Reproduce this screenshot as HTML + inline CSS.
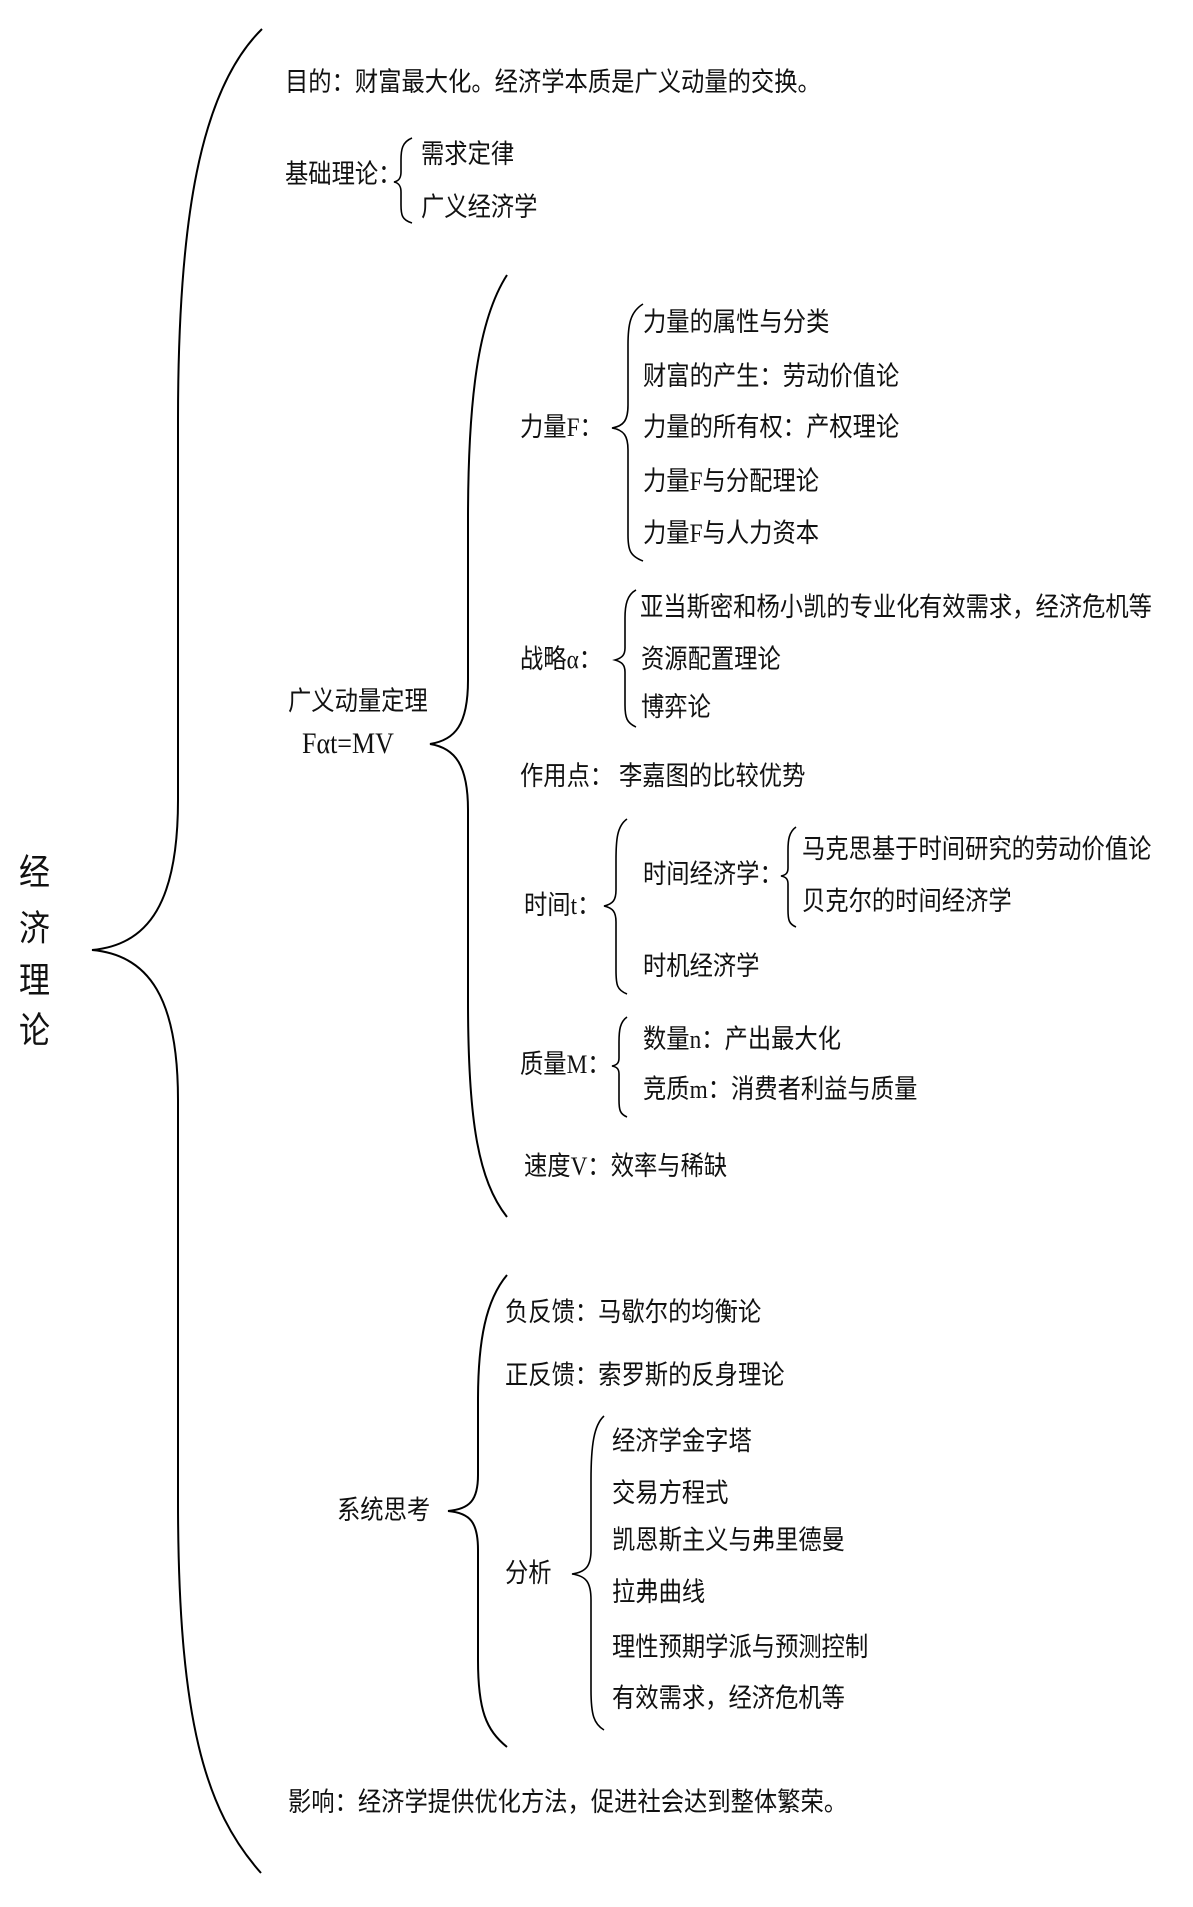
<!DOCTYPE html>
<html><head><meta charset="utf-8">
<style>
html,body{margin:0;padding:0;background:#fff;}
body{width:1193px;height:1907px;position:relative;overflow:hidden;
font-family:"Liberation Serif","Noto Sans CJK SC",sans-serif;color:#111;}
.t{position:absolute;height:30px;line-height:30px;font-size:23.3px;white-space:nowrap;transform:scaleY(1.15);transform-origin:left center;}
svg{position:absolute;left:0;top:0;}
</style></head><body>
<svg width="1193" height="1907" fill="none" stroke="#000" stroke-width="2">
<path d="M262,29 C200,90 178,220 178,420 L178,800 C178,900 150,945 92,950 C150,955 178,1000 178,1100 L178,1500 C178,1720 205,1810 261,1873"/>
<path d="M412,138 C402,142 401,150 401,160 L401,172 C401,178 399,181 394,182 C399,183 401,186 401,192 L401,205 C401,215 402,220 412,223" stroke-width="1.6"/>
<path d="M507,275 C478,320 468,400 468,520 L468,680 C468,725 455,740 430,744 C455,748 468,765 468,810 L468,1000 C468,1120 478,1180 507,1217"/>
<path d="M643,304 C630,312 628,325 628,345 L628,405 C628,420 624,426 612,428 C624,430 628,436 628,450 L628,535 C628,550 630,556 643,561" stroke-width="1.6"/>
<path d="M636,590 C627,595 625,605 625,618 L625,648 C625,655 622,658 615,660 C622,662 625,665 625,672 L625,705 C625,718 627,723 636,727" stroke-width="1.6"/>
<path d="M627,819 C617,826 616,840 616,860 L616,890 C616,900 613,904 604,906 C613,908 616,912 616,922 L616,970 C616,985 617,990 627,994" stroke-width="1.6"/>
<path d="M796,827 C789,832 788,840 788,850 L788,868 C788,873 786,875 781,876 C786,877 788,879 788,884 L788,910 C788,920 789,924 796,927" stroke-width="1.6"/>
<path d="M627,1017 C620,1022 619,1030 619,1042 L619,1058 C619,1063 617,1065 612,1066 C617,1067 619,1069 619,1074 L619,1100 C619,1110 620,1114 627,1117" stroke-width="1.6"/>
<path d="M507,1275 C486,1300 478,1340 478,1400 L478,1475 C478,1500 470,1509 448,1511 C470,1513 478,1522 478,1550 L478,1660 C478,1710 486,1730 507,1747"/>
<path d="M604,1416 C594,1425 591,1445 591,1480 L591,1550 C591,1566 586,1572 572,1574 C586,1576 591,1582 591,1600 L591,1690 C591,1715 594,1724 604,1730" stroke-width="1.6"/>
</svg>

<div class="t" style="left:285px;top:68px;">目的：财富最大化。经济学本质是广义动量的交换。</div>
<div class="t" style="left:285px;top:160px;">基础理论：</div>
<div class="t" style="left:421px;top:140px;">需求定律</div>
<div class="t" style="left:421px;top:193px;">广义经济学</div>

<div class="t" style="left:288px;top:687px;">广义动量定理</div>
<div class="t" style="left:302px;top:729px;font-size:26px;">Fαt=MV</div>

<div class="t" style="left:520px;top:413px;">力量F：</div>
<div class="t" style="left:643px;top:308px;">力量的属性与分类</div>
<div class="t" style="left:643px;top:362px;">财富的产生：劳动价值论</div>
<div class="t" style="left:643px;top:413px;">力量的所有权：产权理论</div>
<div class="t" style="left:643px;top:467px;">力量F与分配理论</div>
<div class="t" style="left:643px;top:519px;">力量F与人力资本</div>

<div class="t" style="left:520px;top:645px;">战略α：</div>
<div class="t" style="left:640px;top:593px;">亚当斯密和杨小凯的专业化</div>
<div class="t" style="left:919px;top:593px;">有效需求，经济危机等</div>
<div class="t" style="left:641px;top:645px;">资源配置理论</div>
<div class="t" style="left:641px;top:693px;">博弈论</div>

<div class="t" style="left:520px;top:762px;">作用点：&nbsp;李嘉图的比较优势</div>

<div class="t" style="left:524px;top:891px;">时间t：</div>
<div class="t" style="left:643px;top:860px;">时间经济学：</div>
<div class="t" style="left:802px;top:835px;">马克思基于时间研究的劳动价值论</div>
<div class="t" style="left:802px;top:887px;">贝克尔的时间经济学</div>
<div class="t" style="left:643px;top:952px;">时机经济学</div>

<div class="t" style="left:520px;top:1050px;">质量M：</div>
<div class="t" style="left:643px;top:1025px;">数量n：产出最大化</div>
<div class="t" style="left:643px;top:1075px;">竞质m：消费者利益与质量</div>

<div class="t" style="left:524px;top:1152px;">速度V：效率与稀缺</div>

<div class="t" style="left:337px;top:1496px;">系统思考</div>
<div class="t" style="left:505px;top:1298px;">负反馈：马歇尔的均衡论</div>
<div class="t" style="left:505px;top:1361px;">正反馈：索罗斯的反身理论</div>
<div class="t" style="left:505px;top:1559px;">分析</div>
<div class="t" style="left:612px;top:1427px;">经济学金字塔</div>
<div class="t" style="left:612px;top:1479px;">交易方程式</div>
<div class="t" style="left:612px;top:1526px;">凯恩斯主义与弗里德曼</div>
<div class="t" style="left:612px;top:1578px;">拉弗曲线</div>
<div class="t" style="left:612px;top:1633px;">理性预期学派与预测控制</div>
<div class="t" style="left:612px;top:1684px;">有效需求，经济危机等</div>

<div class="t" style="left:288px;top:1788px;">影响：经济学提供优化方法，促进社会达到整体繁荣。</div>

<div class="t" style="left:19px;top:858px;font-size:31px;">经</div>
<div class="t" style="left:19px;top:914px;font-size:31px;">济</div>
<div class="t" style="left:19px;top:966px;font-size:31px;">理</div>
<div class="t" style="left:19px;top:1016px;font-size:31px;">论</div>
</body></html>
